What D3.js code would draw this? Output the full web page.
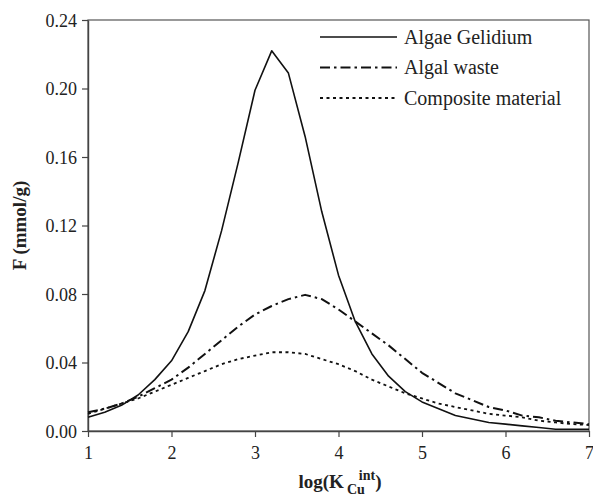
<!DOCTYPE html>
<html>
<head>
<meta charset="utf-8">
<script src="https://cdn.jsdelivr.net/npm/d3@7"></script>
<style>
  body { margin: 0; background: #fff; }
</style>
</head>
<body>
<svg width="593" height="496" font-family="Liberation Serif, DejaVu Serif, serif"></svg>
<script>
// Data
var logK = [1.0, 1.2, 1.4, 1.6, 1.8, 2.0, 2.2, 2.4, 2.6, 2.8, 3.0, 3.2, 3.4, 3.6, 3.8, 4.0,
            4.2, 4.4, 4.6, 4.8, 5.0, 5.2, 5.4, 5.6, 5.8, 6.0, 6.2, 6.4, 6.6, 6.8, 7.0];
var gelidium = [0.008, 0.011, 0.015, 0.021, 0.030, 0.041, 0.058, 0.082, 0.117, 0.157, 0.199, 0.222,
                0.209, 0.172, 0.128, 0.091, 0.064, 0.045, 0.032, 0.023, 0.017, 0.013, 0.009, 0.007,
                0.005, 0.004, 0.003, 0.002, 0.001, 0.001, 0.001];
var algalWaste = [0.011, 0.013, 0.016, 0.020, 0.025, 0.030, 0.037, 0.045, 0.053, 0.061, 0.068, 0.073,
                  0.077, 0.0795, 0.077, 0.071, 0.064, 0.057, 0.050, 0.042, 0.034, 0.028, 0.022, 0.018,
                  0.014, 0.012, 0.009, 0.008, 0.006, 0.005, 0.004];
var composite = [0.010, 0.013, 0.016, 0.019, 0.023, 0.027, 0.031, 0.035, 0.039, 0.042, 0.044, 0.046,
                 0.046, 0.045, 0.042, 0.039, 0.035, 0.030, 0.026, 0.022, 0.019, 0.016, 0.014, 0.012,
                 0.010, 0.009, 0.008, 0.006, 0.005, 0.004, 0.0035];
var seriesNames = ["Algae Gelidium", "Algal waste", "Composite material"];
var xTicks = [1, 2, 3, 4, 5, 6, 7];
var yTicks = [0, 0.04, 0.08, 0.12, 0.16, 0.20, 0.24];

var svg = d3.select("svg"),
    margin = {top: 20, right: 4, bottom: 65, left: 88},
    width = svg.attr("width") - margin.left - margin.right,
    height = svg.attr("height") - margin.top - margin.bottom,
    g = svg.append("g")
      .attr("transform", "translate(" + margin.left + "," + margin.top + ")");

var serif = "'Liberation Serif', 'DejaVu Serif', serif";

var x = d3.scaleLinear().domain([1, 7]).range([0, width]),
    y = d3.scaleLinear().domain([0, 0.24]).range([height, 0]);

var styles = [
  {dash: null, w: 1.6},
  {dash: "10,4,2.5,4", w: 2},
  {dash: "3,3.5", w: 1.8}
];

// frame
g.append("rect")
  .attr("width", width)
  .attr("height", height)
  .attr("fill", "none")
  .attr("stroke", "#555")
  .attr("stroke-width", 1.2);

// axes
var xAxis = g.append("g")
  .attr("transform", "translate(0," + height + ")")
  .call(d3.axisBottom(x).tickValues(xTicks).tickSize(6).tickSizeOuter(0).tickFormat(d3.format("d")));
var yAxis = g.append("g")
  .call(d3.axisLeft(y).tickValues(yTicks).tickSize(6).tickSizeOuter(0).tickFormat(d3.format(".2f")));

[xAxis, yAxis].forEach(function(a) {
  a.attr("font-family", serif).attr("font-size", 18);
  a.select(".domain").attr("stroke", "#444").attr("stroke-width", 1.4);
  a.selectAll(".tick line").attr("stroke", "#444").attr("stroke-width", 1.2);
  a.selectAll(".tick text").attr("fill", "#222");
});
xAxis.selectAll(".tick text").attr("dy", "1.05em");
yAxis.selectAll(".tick text").attr("x", -11).attr("dy", "0.35em");

// lines
var line = d3.line()
  .x(function(d) { return x(d[0]); })
  .y(function(d) { return y(d[1]); });

[gelidium, algalWaste, composite].forEach(function(vals, i) {
  g.append("path")
    .datum(logK.map(function(k, j) { return [k, vals[j]]; }))
    .attr("fill", "none")
    .attr("stroke", "#111")
    .attr("stroke-width", styles[i].w)
    .attr("stroke-dasharray", styles[i].dash)
    .attr("stroke-linejoin", "round")
    .attr("d", line);
});

// legend
var legend = svg.append("g").attr("font-family", serif).attr("font-size", 20);
seriesNames.forEach(function(name, i) {
  var ly = 37 + i * 30.5;
  legend.append("line")
    .attr("x1", 320).attr("x2", 397)
    .attr("y1", ly).attr("y2", ly)
    .attr("stroke", "#111")
    .attr("stroke-width", styles[i].w)
    .attr("stroke-dasharray", styles[i].dash);
  legend.append("text")
    .attr("x", 404)
    .attr("y", ly)
    .attr("dy", "0.33em")
    .attr("fill", "#222")
    .text(name);
});

// axis titles
var xt = svg.append("text")
  .attr("x", 340)
  .attr("y", 488)
  .attr("text-anchor", "middle")
  .attr("font-family", serif)
  .attr("font-size", 19)
  .attr("font-weight", "bold")
  .attr("fill", "#222");
xt.append("tspan").text("log(K");
xt.append("tspan").attr("dy", 6).attr("dx", 3).attr("font-size", 14).text("Cu");
xt.append("tspan").attr("dy", -14).attr("dx", -6).attr("font-size", 14).text("int");
xt.append("tspan").attr("dy", 8).text(")");

svg.append("text")
  .attr("transform", "translate(26," + (margin.top + height / 2) + ") rotate(-90)")
  .attr("text-anchor", "middle")
  .attr("font-family", serif)
  .attr("font-size", 19)
  .attr("font-weight", "bold")
  .attr("fill", "#222")
  .text("F (mmol/g)");
</script>
</body>
</html>
